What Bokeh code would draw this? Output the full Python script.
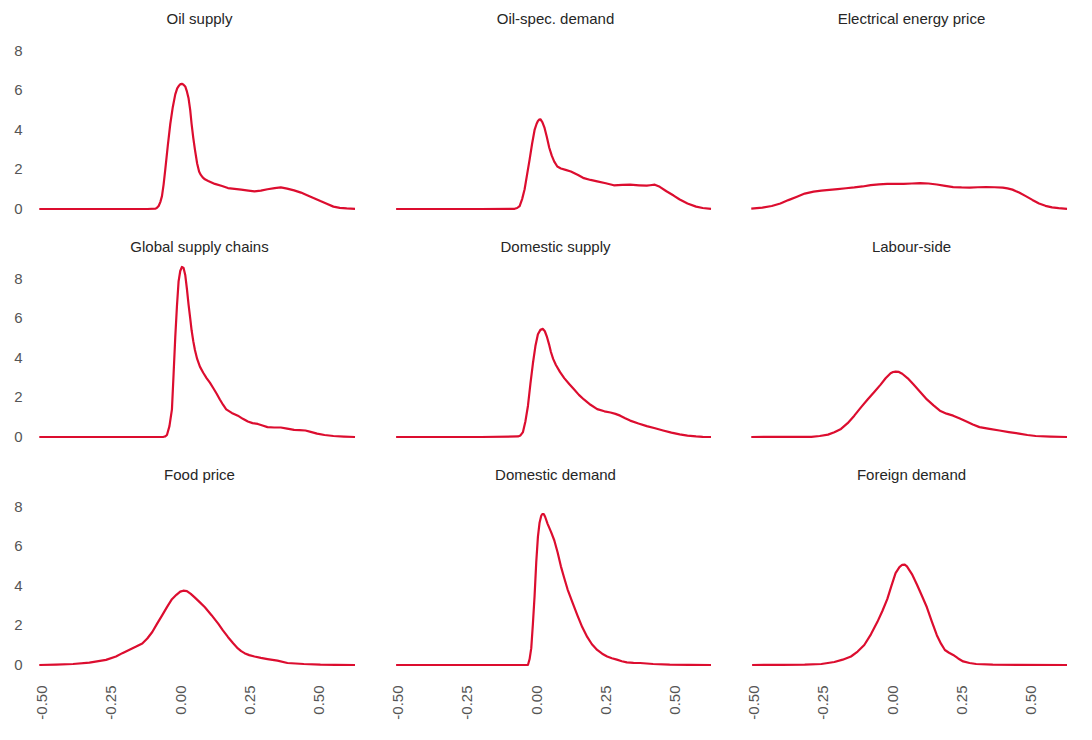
import math
from bokeh.plotting import figure
from bokeh.layouts import gridplot
from bokeh.models import Range1d, FixedTicker, NumeralTickFormatter
from bokeh.embed import file_html
from bokeh.resources import INLINE

titles = ["Oil supply", "Oil-spec. demand", "Electrical energy price",
          "Global supply chains", "Domestic supply", "Labour-side",
          "Food price", "Domestic demand", "Foreign demand"]

y_ticks = [0, 2, 4, 6, 8]
x_ticks = [-0.50, -0.25, 0.00, 0.25, 0.50]

oil_supply_x = [-0.51, -0.2, -0.12, -0.09, -0.085, -0.079, -0.073, -0.067, -0.061, -0.055, -0.046, -0.037,
                -0.028, -0.019, -0.012, -0.005, 0.0, 0.005, 0.01, 0.017, 0.023, 0.029, 0.035, 0.040,
                0.046, 0.052, 0.06, 0.067, 0.072, 0.08, 0.088, 0.1, 0.124, 0.15, 0.171, 0.195, 0.219,
                0.245, 0.267, 0.29, 0.314, 0.34, 0.362, 0.385, 0.41, 0.435, 0.457, 0.48, 0.505, 0.53,
                0.552, 0.575, 0.6, 0.63]
oil_supply_y = [0, 0, 0, 0.02, 0.06, 0.15, 0.35, 0.65, 1.25, 2.0, 3.2, 4.3,
                5.15, 5.8, 6.1, 6.25, 6.32, 6.33, 6.3, 6.2, 5.95, 5.6, 5.0, 4.3,
                3.6, 3.0, 2.3, 1.9, 1.75, 1.6, 1.5, 1.42, 1.27, 1.16, 1.06, 1.02, 0.98,
                0.93, 0.89, 0.93, 1.0, 1.06, 1.09, 1.03, 0.94, 0.83, 0.7, 0.56, 0.4, 0.25,
                0.12, 0.06, 0.03, 0.01]

oil_demand_x = [-0.507, -0.2, -0.079, -0.07, -0.061, -0.052, -0.043, -0.034, -0.025, -0.016, -0.007, 0.0,
                0.005, 0.01, 0.014, 0.021, 0.029, 0.037, 0.046, 0.055, 0.064, 0.075, 0.088, 0.105,
                0.124, 0.15, 0.171, 0.195, 0.219, 0.25, 0.279, 0.31, 0.338, 0.37, 0.398, 0.41, 0.427,
                0.445, 0.469, 0.495, 0.517, 0.545, 0.576, 0.6, 0.63]
oil_demand_y = [0, 0, 0.01, 0.05, 0.15, 0.5, 1.0, 1.75, 2.5, 3.3, 4.0, 4.3,
                4.45, 4.52, 4.54, 4.4, 4.1, 3.65, 3.1, 2.7, 2.4, 2.15, 2.05, 1.98,
                1.9, 1.72, 1.56, 1.47, 1.4, 1.3, 1.2, 1.22, 1.23, 1.2, 1.18, 1.2, 1.23,
                1.12, 0.9, 0.68, 0.48, 0.28, 0.12, 0.05, 0.01]

elec_x = [-0.51, -0.47, -0.436, -0.405, -0.376, -0.345, -0.317, -0.285, -0.257, -0.228, -0.198, -0.168,
          -0.138, -0.108, -0.079, -0.049, -0.019, 0.010, 0.040, 0.07, 0.1, 0.13, 0.16, 0.19,
          0.219, 0.249, 0.279, 0.308, 0.338, 0.368, 0.398, 0.415, 0.433, 0.457, 0.481, 0.505,
          0.529, 0.552, 0.576, 0.6, 0.63]
elec_y = [0.02, 0.07, 0.15, 0.28, 0.45, 0.62, 0.78, 0.88, 0.93, 0.97, 1.01, 1.05,
          1.09, 1.14, 1.21, 1.25, 1.27, 1.27, 1.27, 1.29, 1.31, 1.29, 1.24, 1.17,
          1.11, 1.09, 1.08, 1.1, 1.11, 1.1, 1.08, 1.04, 0.98, 0.83, 0.65, 0.46,
          0.28, 0.16, 0.08, 0.04, 0.01]

gsc_x = [-0.51, -0.2, -0.061, -0.055, -0.049, -0.04, -0.031, -0.025, -0.019, -0.013, -0.007, -0.001,
         0.005, 0.011, 0.017, 0.023, 0.029, 0.035, 0.04, 0.046, 0.052, 0.06, 0.07, 0.082, 0.094,
         0.106, 0.118, 0.13, 0.142, 0.154, 0.165, 0.185, 0.207, 0.225, 0.243, 0.26, 0.279, 0.296,
         0.314, 0.338, 0.362, 0.385, 0.41, 0.43, 0.451, 0.47, 0.493, 0.52, 0.552, 0.59, 0.63]
gsc_y = [0, 0, 0.01, 0.03, 0.1, 0.55, 1.4, 3.2, 5.05, 6.6, 7.87, 8.4,
         8.6, 8.55, 8.2, 7.5, 6.7, 6.0, 5.4, 4.85, 4.4, 3.95, 3.56, 3.25, 2.98,
         2.75, 2.48, 2.2, 1.9, 1.62, 1.4, 1.22, 1.08, 0.92, 0.78, 0.7, 0.66, 0.58,
         0.5, 0.48, 0.48, 0.42, 0.36, 0.35, 0.33, 0.26, 0.17, 0.1, 0.05, 0.02, 0.0]

dom_supply_x = [-0.507, -0.2, -0.067, -0.058, -0.049, -0.04, -0.031, -0.022, -0.013, -0.004, 0.005, 0.014,
                0.023, 0.03, 0.038, 0.045, 0.052, 0.06, 0.07, 0.085, 0.1, 0.118, 0.136, 0.153, 0.171,
                0.195, 0.219, 0.245, 0.267, 0.285, 0.302, 0.32, 0.338, 0.368, 0.398, 0.428, 0.457,
                0.487, 0.517, 0.545, 0.576, 0.6, 0.63]
dom_supply_y = [0, 0, 0.03, 0.08, 0.25, 0.8, 1.57, 2.7, 3.73, 4.6, 5.2, 5.42,
                5.47, 5.35, 5.05, 4.7, 4.3, 3.95, 3.64, 3.28, 2.98, 2.68, 2.4, 2.13, 1.9,
                1.63, 1.41, 1.3, 1.24, 1.17, 1.08, 0.95, 0.83, 0.68, 0.55, 0.44, 0.33,
                0.22, 0.13, 0.07, 0.03, 0.01, 0]

labour_x = [-0.51, -0.293, -0.263, -0.233, -0.21, -0.186, -0.162, -0.138, -0.114, -0.09, -0.066, -0.043,
            -0.025, -0.007, 0.002, 0.011, 0.023, 0.035, 0.055, 0.076, 0.1, 0.124, 0.148, 0.171, 0.195,
            0.219, 0.243, 0.267, 0.29, 0.314, 0.35, 0.386, 0.42, 0.457, 0.487, 0.517, 0.57, 0.63]
labour_y = [0, 0.01, 0.05, 0.12, 0.24, 0.41, 0.7, 1.08, 1.5, 1.9, 2.28, 2.65,
            2.97, 3.23, 3.29, 3.31, 3.29, 3.2, 2.97, 2.65, 2.28, 1.9, 1.6, 1.33, 1.18,
            1.08, 0.93, 0.78, 0.63, 0.5, 0.41, 0.33, 0.25, 0.17, 0.1, 0.05, 0.02, 0]

food_x = [-0.51, -0.45, -0.388, -0.329, -0.269, -0.233, -0.21, -0.186, -0.162, -0.138, -0.12, -0.102,
          -0.085, -0.067, -0.049, -0.031, -0.015, -0.001, 0.01, 0.023, 0.037, 0.052, 0.07, 0.088,
          0.112, 0.136, 0.153, 0.171, 0.19, 0.207, 0.219, 0.231, 0.248, 0.267, 0.29, 0.314, 0.35,
          0.386, 0.445, 0.505, 0.56, 0.63]
food_y = [0, 0.02, 0.05, 0.12, 0.26, 0.43, 0.6, 0.76, 0.92, 1.09, 1.34, 1.67,
          2.08, 2.5, 2.93, 3.33, 3.55, 3.71, 3.76, 3.74, 3.6, 3.41, 3.17, 2.92,
          2.52, 2.09, 1.75, 1.42, 1.1, 0.84, 0.7, 0.6, 0.5, 0.43, 0.36, 0.3, 0.22,
          0.1, 0.05, 0.02, 0.01, 0]

dom_demand_x = [-0.507, -0.2, -0.031, -0.025, -0.019, -0.013, -0.007, -0.001, 0.005, 0.011, 0.017, 0.021,
                0.026, 0.031, 0.04, 0.052, 0.064, 0.076, 0.088, 0.1, 0.112, 0.13, 0.148, 0.165, 0.183,
                0.2, 0.219, 0.237, 0.255, 0.272, 0.29, 0.308, 0.326, 0.35, 0.374, 0.421, 0.481, 0.55,
                0.63]
dom_demand_y = [0, 0, 0.0, 0.3, 0.85, 2.1, 3.5, 5.2, 6.48, 7.2, 7.55, 7.64,
                7.64, 7.5, 7.14, 6.75, 6.31, 5.7, 4.99, 4.4, 3.83, 3.15, 2.5, 1.92, 1.42,
                1.05, 0.76, 0.57, 0.43, 0.34, 0.27, 0.19, 0.13, 0.11, 0.1, 0.05, 0.02, 0.01,
                0]

foreign_x = [-0.507, -0.4, -0.317, -0.257, -0.21, -0.18, -0.15, -0.126, -0.102, -0.078, -0.055, -0.037,
             -0.019, -0.004, 0.011, 0.025, 0.035, 0.044, 0.052, 0.07, 0.088, 0.106, 0.124, 0.142, 0.16,
             0.175, 0.189, 0.204, 0.219, 0.237, 0.255, 0.278, 0.302, 0.362, 0.45, 0.63]
foreign_y = [0, 0.01, 0.02, 0.05, 0.15, 0.27, 0.43, 0.68, 1.01, 1.55, 2.17, 2.72,
             3.33, 4.0, 4.65, 4.95, 5.07, 5.08, 4.99, 4.6, 4.07, 3.5, 2.92, 2.2, 1.51,
             1.08, 0.76, 0.62, 0.51, 0.33, 0.18, 0.1, 0.05, 0.02, 0.01, 0]

series = [(oil_supply_x, oil_supply_y), (oil_demand_x, oil_demand_y), (elec_x, elec_y),
          (gsc_x, gsc_y), (dom_supply_x, dom_supply_y), (labour_x, labour_y),
          (food_x, food_y), (dom_demand_x, dom_demand_y), (foreign_x, foreign_y)]

LINE_COLOR = "#DC0D2F"
FONT = "Liberation Sans"
W, H, TOP = 326, 187, 30

rows = [[], [], []]
for i, (t, (xs, ys)) in enumerate(zip(titles, series)):
    r, c = divmod(i, 3)
    left = 36 if c == 0 else 30
    bottom = 50 if r == 2 else 11
    p = figure(width=W + left, height=H + TOP + bottom,
               x_range=Range1d(-0.52, 0.657), y_range=Range1d(-0.43, 9.03),
               output_backend="svg", toolbar_location=None, title=t,
               min_border_left=left, min_border_right=0,
               min_border_top=TOP, min_border_bottom=bottom)
    p.title.align = "center"
    p.title.text_font = FONT
    p.title.text_font_size = "15px"
    p.title.text_font_style = "normal"
    p.title.text_color = "#262626"
    p.title.standoff = 8
    p.outline_line_color = None
    p.background_fill_color = "white"
    p.border_fill_color = "white"
    p.xgrid.visible = False
    p.ygrid.visible = False
    for ax in (p.xaxis[0], p.yaxis[0]):
        ax.axis_line_color = None
        ax.major_tick_line_color = None
        ax.minor_tick_line_color = None
        ax.major_label_text_font = FONT
        ax.major_label_text_font_size = "15px"
        ax.major_label_text_color = "#555555"
    p.yaxis.ticker = FixedTicker(ticks=y_ticks)
    p.yaxis.major_label_standoff = 8
    p.xaxis.ticker = FixedTicker(ticks=x_ticks)
    p.xaxis.formatter = NumeralTickFormatter(format="0.00")
    p.xaxis.major_label_orientation = math.pi / 2
    p.xaxis.major_label_standoff = 6
    p.xaxis.visible = (r == 2)
    p.yaxis.visible = (c == 0)
    p.line(xs, ys, line_color=LINE_COLOR, line_width=2.2, line_join="round")
    rows[r].append(p)

grid = gridplot(rows, toolbar_location=None)
open("out.html", "w").write(file_html(grid, INLINE))
